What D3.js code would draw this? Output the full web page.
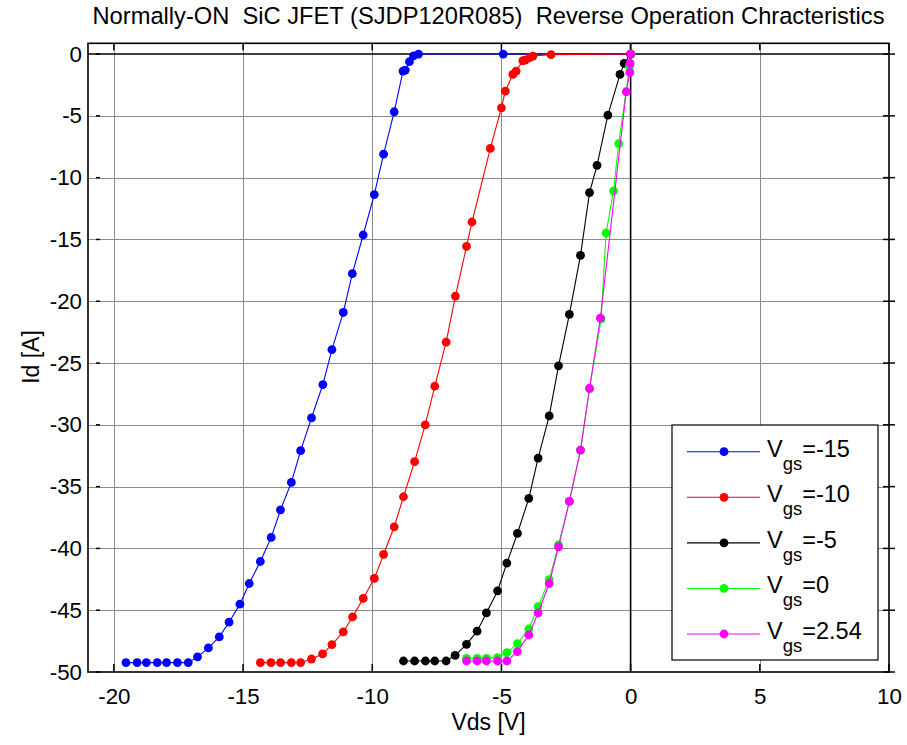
<!DOCTYPE html>
<html>
<head>
<meta charset="utf-8">
<script src="https://cdn.jsdelivr.net/npm/d3@7"></script>
<style>
  html, body { margin: 0; padding: 0; background: #fff; }
  svg { display: block; font-family: "Liberation Sans", Arial, sans-serif; }
</style>
</head>
<body>
<svg id="chart" width="907" height="745"></svg>
<script>
// Reverse-conduction characteristics, one series per gate voltage
const seriesNames = ["-15", "-10", "-5", "0", "2.54"];
const seriesColors = ["#0000ff", "#ff0000", "#000000", "#00ff00", "#ff00ff"];

const vdsGm15 = [-19.53, -19.10, -18.74, -18.32, -17.96, -17.54, -17.12, -16.76, -16.34, -15.92,
  -15.54, -15.12, -14.76, -14.33, -13.91, -13.55, -13.13, -12.77, -12.35, -11.91,
  -11.56, -11.12, -10.77, -10.35, -9.92, -9.56, -9.15, -8.81, -8.72, -8.56, -8.40, -8.21, -4.93, 0];
const idGm15 = [-49.24, -49.24, -49.24, -49.24, -49.24, -49.24, -49.24, -48.78, -48.05, -47.16,
  -45.97, -44.51, -42.84, -41.06, -39.11, -36.89, -34.66, -32.09, -29.44, -26.74,
  -23.91, -20.91, -17.77, -14.64, -11.37, -8.10, -4.67, -1.38, -1.30, -0.62, -0.14, 0, 0, 0];

const vdsGm10 = [-14.33, -13.92, -13.55, -13.13, -12.77, -12.35, -11.92, -11.56, -11.12, -10.76,
  -10.35, -9.92, -9.56, -9.15, -8.79, -8.36, -7.95, -7.58, -7.14, -6.78,
  -6.35, -6.14, -5.43, -5.00, -4.85, -4.56, -4.43, -4.17, -4.08, -3.91, -3.78, -3.08, 0];
const idGm10 = [-49.24, -49.24, -49.24, -49.24, -49.24, -48.95, -48.54, -47.78, -46.76, -45.54,
  -44.05, -42.43, -40.49, -38.25, -35.82, -32.98, -30.01, -26.88, -23.31, -19.58,
  -15.56, -13.59, -7.64, -4.35, -3.00, -1.65, -1.38, -0.54, -0.49, -0.30, -0.16, -0.05, 0];

const vdsGm5 = [-8.79, -8.36, -7.94, -7.58, -7.14, -6.79, -6.35, -5.94, -5.58, -5.15,
  -4.79, -4.38, -3.94, -3.58, -3.15, -2.79, -2.37, -1.94, -1.59, -1.30,
  -0.88, -0.41, -0.25, 0];
const idGm5 = [-49.11, -49.11, -49.11, -49.11, -49.11, -48.65, -47.76, -46.70, -45.22, -43.44,
  -41.19, -38.79, -35.95, -32.69, -29.28, -25.23, -21.07, -16.29, -11.21, -9.00,
  -4.94, -1.65, -0.76, 0];

const vdsG0 = [-6.35, -5.94, -5.58, -5.15, -4.79, -4.38, -3.94, -3.58, -3.15, -2.79,
  -2.37, -1.94, -1.59, -1.14, -0.95, -0.66, -0.46, -0.04, 0.02];
const idG0 = [-48.89, -48.89, -48.89, -48.84, -48.43, -47.70, -46.52, -44.71, -42.52, -39.71,
  -36.20, -32.04, -27.09, -21.42, -14.48, -11.07, -7.24, -1.00, 0];

const vdsG254 = [-6.35, -5.94, -5.58, -5.15, -4.79, -4.38, -3.94, -3.58, -3.15, -2.79,
  -2.37, -1.94, -1.59, -1.17, -0.17, -0.03, -0.02, 0.00];
const idG254 = [-49.11, -49.11, -49.11, -49.11, -49.11, -48.35, -47.00, -45.22, -42.84, -39.87,
  -36.20, -32.04, -27.04, -21.37, -3.05, -1.49, -0.76, 0];

const xTicks = [-20, -15, -10, -5, 0, 5, 10];
const yTicks = [0, -5, -10, -15, -20, -25, -30, -35, -40, -45, -50];

const titleText = "Normally-ON\u00a0\u00a0SiC JFET (SJDP120R085)\u00a0\u00a0Reverse Operation Chracteristics";
const xLabel = "Vds [V]";
const yLabel = "Id [A]";

const allX = [vdsGm15, vdsGm10, vdsGm5, vdsG0, vdsG254];
const allY = [idGm15, idGm10, idGm5, idG0, idG254];
const series = seriesNames.map((name, i) => ({
  name, color: seriesColors[i],
  points: allX[i].map((v, j) => ({ x: v, y: allY[i][j] }))
}));

// plot box
const boxL = 88, boxR = 889, boxT = 43.3, boxB = 672;
const x = d3.scaleLinear().domain([-21, 10]).range([boxL, boxR]);
const y = d3.scaleLinear().domain([-50, 0.87]).range([boxB, boxT]);

const svg = d3.select("#chart");

// title
svg.append("text")
  .attr("x", (boxL + boxR) / 2).attr("y", 24)
  .attr("text-anchor", "middle")
  .attr("font-size", 23.7)
  .text(titleText);

// grid
const grid = svg.append("g").attr("stroke", "#8a8a8a").attr("stroke-width", 1);
grid.selectAll("line.gx").data(xTicks.filter(t => t !== 0 && t !== 10)).join("line")
  .attr("x1", d => Math.round(x(d)) + 0.5).attr("x2", d => Math.round(x(d)) + 0.5)
  .attr("y1", boxT).attr("y2", boxB);
grid.selectAll("line.gy").data(yTicks.filter(t => t !== 0 && t !== -50)).join("line")
  .attr("y1", d => Math.round(y(d)) + 0.5).attr("y2", d => Math.round(y(d)) + 0.5)
  .attr("x1", boxL).attr("x2", boxR);

// zero lines
svg.append("line")
  .attr("x1", boxL).attr("x2", boxR)
  .attr("y1", y(0)).attr("y2", y(0))
  .attr("stroke", "#000").attr("stroke-width", 1.6);
svg.append("line")
  .attr("x1", x(0)).attr("x2", x(0))
  .attr("y1", boxT).attr("y2", boxB)
  .attr("stroke", "#000").attr("stroke-width", 1.6);

// tick labels via d3 axes
const fmt = d => String(d);
const xAxis = svg.append("g")
  .attr("transform", `translate(0,${boxB})`)
  .call(d3.axisBottom(x).tickValues(xTicks).tickFormat(fmt).tickSize(0).tickPadding(16));
const yAxis = svg.append("g")
  .attr("transform", `translate(${boxL},0)`)
  .call(d3.axisLeft(y).tickValues(yTicks).tickFormat(fmt).tickSize(0).tickPadding(6));
[xAxis, yAxis].forEach(g => {
  g.select(".domain").remove();
  g.selectAll("text")
    .attr("font-size", 22.3)
    .attr("font-family", '"Liberation Sans", Arial, sans-serif')
    .attr("fill", "#000");
});

// short tick marks on all four sides
const tk = svg.append("g").attr("stroke", "#000").attr("stroke-width", 1.5);
tk.selectAll("line.tb").data(xTicks).join("line")
  .attr("x1", d => x(d)).attr("x2", d => x(d))
  .attr("y1", boxB).attr("y2", boxB - 8);
tk.selectAll("line.tt").data(xTicks).join("line")
  .attr("x1", d => x(d)).attr("x2", d => x(d))
  .attr("y1", boxT).attr("y2", boxT + 7);
tk.selectAll("line.tl").data(yTicks).join("line")
  .attr("y1", d => y(d)).attr("y2", d => y(d))
  .attr("x1", boxL + 8).attr("x2", boxL + 12);
tk.selectAll("line.tr").data(yTicks).join("line")
  .attr("y1", d => y(d)).attr("y2", d => y(d))
  .attr("x1", boxR - 6).attr("x2", boxR + 6);

// axis box
svg.append("rect")
  .attr("x", boxL).attr("y", boxT)
  .attr("width", boxR - boxL).attr("height", boxB - boxT)
  .attr("fill", "none").attr("stroke", "#000").attr("stroke-width", 1.6);

// axis titles
svg.append("text")
  .attr("x", (boxL + boxR) / 2).attr("y", 730)
  .attr("text-anchor", "middle").attr("font-size", 23)
  .text(xLabel);
svg.append("text")
  .attr("transform", "translate(39,357) rotate(-90)")
  .attr("text-anchor", "middle").attr("font-size", 23)
  .text(yLabel);

// curves
const line = d3.line().x(d => x(d.x)).y(d => y(d.y));
const curves = svg.append("g");
series.forEach(s => {
  const g = curves.append("g");
  g.append("path")
    .attr("d", line(s.points))
    .attr("fill", "none").attr("stroke", s.color).attr("stroke-width", 1.1);
  g.selectAll("circle").data(s.points).join("circle")
    .attr("cx", d => x(d.x)).attr("cy", d => y(d.y))
    .attr("r", 4.4).attr("fill", s.color);
});

// legend
const lg = svg.append("g");
const lgX = 672, lgY = 425, lgW = 206, lgH = 235;
lg.append("rect")
  .attr("x", lgX).attr("y", lgY).attr("width", lgW).attr("height", lgH)
  .attr("fill", "#fff").attr("stroke", "#000").attr("stroke-width", 1.2);
const rowY = d3.scaleLinear().domain([0, 4]).range([451.7, 634]);
series.forEach((s, i) => {
  const cy = rowY(i);
  lg.append("line")
    .attr("x1", 687).attr("x2", 760).attr("y1", cy).attr("y2", cy)
    .attr("stroke", s.color).attr("stroke-width", 1.1);
  lg.append("circle").attr("cx", 724).attr("cy", cy).attr("r", 4.4).attr("fill", s.color);
  const t = lg.append("text").attr("x", 767).attr("y", cy + 5).attr("font-size", 23.5);
  t.append("tspan").text("V");
  t.append("tspan").attr("dy", 13).attr("font-size", 18.5).text("gs");
  t.append("tspan").attr("dy", -13).text("=" + s.name);
});
</script>
</body>
</html>
